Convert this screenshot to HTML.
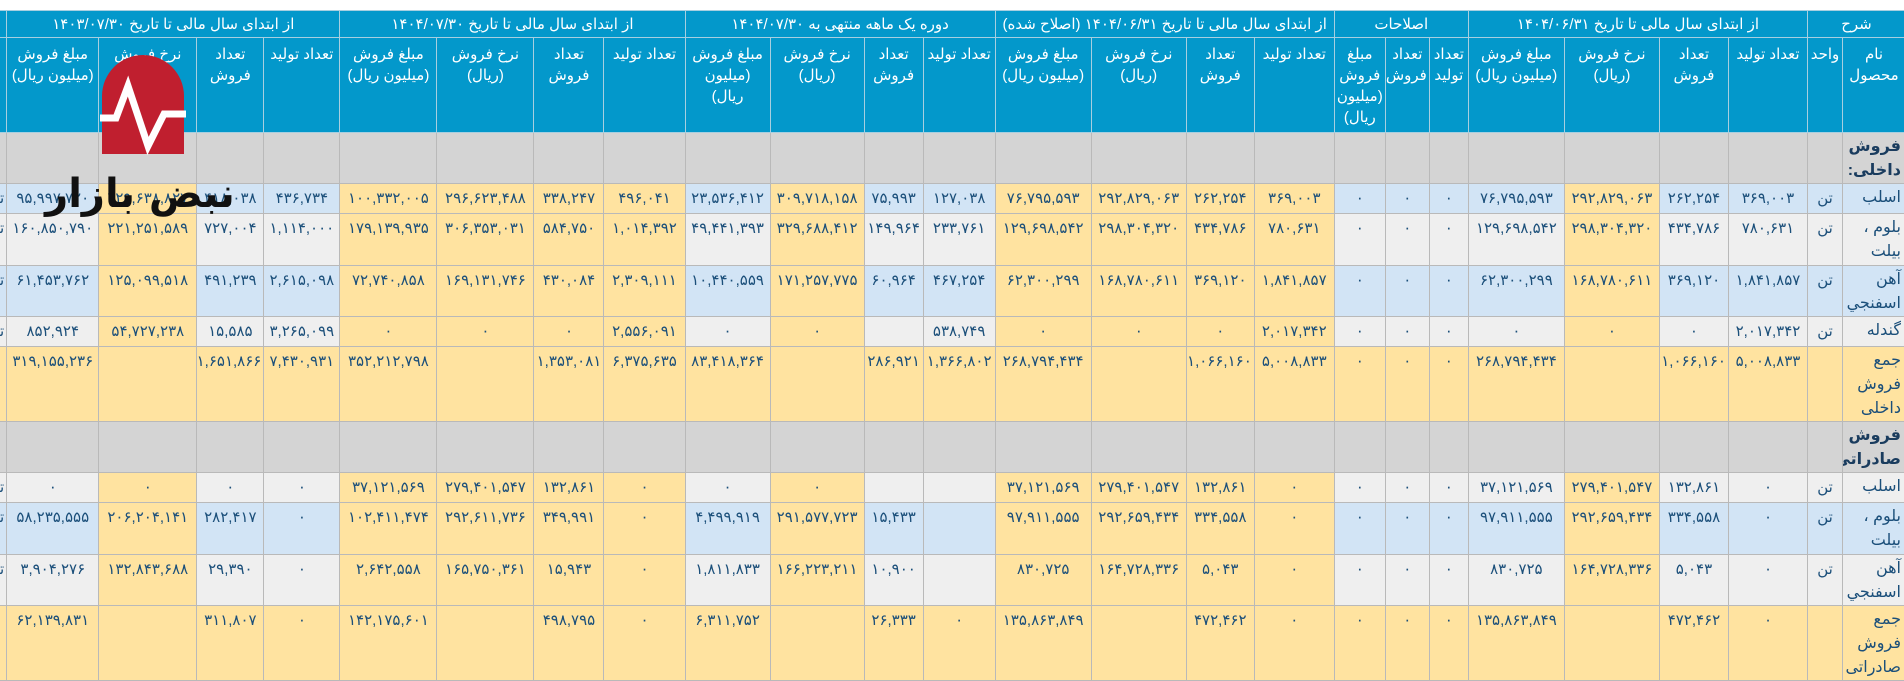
<!DOCTYPE html>
<html lang="fa" dir="rtl">
<head>
<meta charset="utf-8">
<style>
html,body{margin:0;padding:0;background:#fff;width:1904px;height:681px;overflow:hidden;position:relative;}
table{position:absolute;top:10px;left:-54px;border-collapse:collapse;table-layout:fixed;width:1960px;direction:rtl;font-family:"Liberation Sans","DejaVu Sans",sans-serif;}
td,th{border:1px solid #b9b9b9;padding:5px 2px 0;vertical-align:top;text-align:center;overflow:hidden;white-space:nowrap;font-size:15px;color:#1b4f7a;font-weight:normal;box-sizing:border-box;}
th{background:#0398cb;color:#fff;border-color:#a8cfe0;font-size:15px;white-space:normal;line-height:21px;padding-top:6px;}
tr.h1 th{vertical-align:middle;padding-top:0;}
td.n{text-align:right;white-space:normal;padding-right:4px;font-size:16px;line-height:24px;padding-top:2px;}
.b{background:#d2e4f5}.g{background:#efefef}.y{background:#ffe3a0}.s{background:#d4d4d4}
td.sec{font-weight:bold;color:#1a3c5e;}
</style>
</head>
<body>
<table>
<colgroup>
<col style="width:63px"><col style="width:35px">
<col style="width:79px"><col style="width:69px"><col style="width:95px"><col style="width:96px">
<col style="width:39px"><col style="width:44px"><col style="width:51px">
<col style="width:80px"><col style="width:68px"><col style="width:95px"><col style="width:96px">
<col style="width:72px"><col style="width:59px"><col style="width:94px"><col style="width:85px">
<col style="width:81px"><col style="width:70px"><col style="width:97px"><col style="width:97px">
<col style="width:76px"><col style="width:67px"><col style="width:98px"><col style="width:92px">
<col style="width:60px">
</colgroup>
<tr class="h1" style="height:27px">
<th colspan="2">شرح</th>
<th colspan="4">از ابتدای سال مالی تا تاریخ ۱۴۰۴/۰۶/۳۱</th>
<th colspan="3">اصلاحات</th>
<th colspan="4">از ابتدای سال مالی تا تاریخ ۱۴۰۴/۰۶/۳۱ (اصلاح شده)</th>
<th colspan="4">دوره یک ماهه منتهی به ۱۴۰۴/۰۷/۳۰</th>
<th colspan="4">از ابتدای سال مالی تا تاریخ ۱۴۰۴/۰۷/۳۰</th>
<th colspan="4">از ابتدای سال مالی تا تاریخ ۱۴۰۳/۰۷/۳۰</th>
<th></th>
</tr>
<tr style="height:95px">
<th>نام محصول</th><th>واحد</th>
<th>تعداد تولید</th><th>تعداد فروش</th><th>نرخ فروش (ریال)</th><th>مبلغ فروش (میلیون ریال)</th>
<th>تعداد تولید</th><th>تعداد فروش</th><th>مبلغ فروش (میلیون ریال)</th>
<th>تعداد تولید</th><th>تعداد فروش</th><th>نرخ فروش (ریال)</th><th>مبلغ فروش (میلیون ریال)</th>
<th>تعداد تولید</th><th>تعداد فروش</th><th>نرخ فروش (ریال)</th><th>مبلغ فروش (میلیون ریال)</th>
<th>تعداد تولید</th><th>تعداد فروش</th><th>نرخ فروش (ریال)</th><th>مبلغ فروش (میلیون ریال)</th>
<th>تعداد تولید</th><th>تعداد فروش</th><th>نرخ فروش (ریال)</th><th>مبلغ فروش (میلیون ریال)</th>
<th>ش</th>
</tr>
<tr style="height:51px">
<td class="s n sec">فروش داخلی:</td><td class="s"></td>
<td class="s"></td><td class="s"></td><td class="s"></td><td class="s"></td>
<td class="s"></td><td class="s"></td><td class="s"></td>
<td class="s"></td><td class="s"></td><td class="s"></td><td class="s"></td>
<td class="s"></td><td class="s"></td><td class="s"></td><td class="s"></td>
<td class="s"></td><td class="s"></td><td class="s"></td><td class="s"></td>
<td class="s"></td><td class="s"></td><td class="s"></td><td class="s"></td>
<td class="s"></td>
</tr>
<tr style="height:30px">
<td class="b n">اسلب</td><td class="b">تن</td>
<td class="b">۳۶۹,۰۰۳</td><td class="b">۲۶۲,۲۵۴</td><td class="y">۲۹۲,۸۲۹,۰۶۳</td><td class="b">۷۶,۷۹۵,۵۹۳</td>
<td class="b">۰</td><td class="b">۰</td><td class="b">۰</td>
<td class="y">۳۶۹,۰۰۳</td><td class="y">۲۶۲,۲۵۴</td><td class="y">۲۹۲,۸۲۹,۰۶۳</td><td class="y">۷۶,۷۹۵,۵۹۳</td>
<td class="b">۱۲۷,۰۳۸</td><td class="b">۷۵,۹۹۳</td><td class="y">۳۰۹,۷۱۸,۱۵۸</td><td class="b">۲۳,۵۳۶,۴۱۲</td>
<td class="y">۴۹۶,۰۴۱</td><td class="y">۳۳۸,۲۴۷</td><td class="y">۲۹۶,۶۲۳,۴۸۸</td><td class="y">۱۰۰,۳۳۲,۰۰۵</td>
<td class="b">۴۳۶,۷۳۴</td><td class="b">۴۱۸,۰۳۸</td><td class="y">۲۲۹,۶۳۸,۸۲۷</td><td class="b">۹۵,۹۹۷,۷۲۰</td>
<td class="b" style="text-align:right">تن</td>
</tr>
<tr style="height:52px">
<td class="g n">بلوم ، بیلت</td><td class="g">تن</td>
<td class="g">۷۸۰,۶۳۱</td><td class="g">۴۳۴,۷۸۶</td><td class="y">۲۹۸,۳۰۴,۳۲۰</td><td class="g">۱۲۹,۶۹۸,۵۴۲</td>
<td class="g">۰</td><td class="g">۰</td><td class="g">۰</td>
<td class="y">۷۸۰,۶۳۱</td><td class="y">۴۳۴,۷۸۶</td><td class="y">۲۹۸,۳۰۴,۳۲۰</td><td class="y">۱۲۹,۶۹۸,۵۴۲</td>
<td class="g">۲۳۳,۷۶۱</td><td class="g">۱۴۹,۹۶۴</td><td class="y">۳۲۹,۶۸۸,۴۱۲</td><td class="g">۴۹,۴۴۱,۳۹۳</td>
<td class="y">۱,۰۱۴,۳۹۲</td><td class="y">۵۸۴,۷۵۰</td><td class="y">۳۰۶,۳۵۳,۰۳۱</td><td class="y">۱۷۹,۱۳۹,۹۳۵</td>
<td class="g">۱,۱۱۴,۰۰۰</td><td class="g">۷۲۷,۰۰۴</td><td class="y">۲۲۱,۲۵۱,۵۸۹</td><td class="g">۱۶۰,۸۵۰,۷۹۰</td>
<td class="g" style="text-align:right">تن</td>
</tr>
<tr style="height:51px">
<td class="b n">آهن اسفنجي</td><td class="b">تن</td>
<td class="b">۱,۸۴۱,۸۵۷</td><td class="b">۳۶۹,۱۲۰</td><td class="y">۱۶۸,۷۸۰,۶۱۱</td><td class="b">۶۲,۳۰۰,۲۹۹</td>
<td class="b">۰</td><td class="b">۰</td><td class="b">۰</td>
<td class="y">۱,۸۴۱,۸۵۷</td><td class="y">۳۶۹,۱۲۰</td><td class="y">۱۶۸,۷۸۰,۶۱۱</td><td class="y">۶۲,۳۰۰,۲۹۹</td>
<td class="b">۴۶۷,۲۵۴</td><td class="b">۶۰,۹۶۴</td><td class="y">۱۷۱,۲۵۷,۷۷۵</td><td class="b">۱۰,۴۴۰,۵۵۹</td>
<td class="y">۲,۳۰۹,۱۱۱</td><td class="y">۴۳۰,۰۸۴</td><td class="y">۱۶۹,۱۳۱,۷۴۶</td><td class="y">۷۲,۷۴۰,۸۵۸</td>
<td class="b">۲,۶۱۵,۰۹۸</td><td class="b">۴۹۱,۲۳۹</td><td class="y">۱۲۵,۰۹۹,۵۱۸</td><td class="b">۶۱,۴۵۳,۷۶۲</td>
<td class="b" style="text-align:right">تن</td>
</tr>
<tr style="height:30px">
<td class="g n">گندله</td><td class="g">تن</td>
<td class="g">۲,۰۱۷,۳۴۲</td><td class="g">۰</td><td class="y">۰</td><td class="g">۰</td>
<td class="g">۰</td><td class="g">۰</td><td class="g">۰</td>
<td class="y">۲,۰۱۷,۳۴۲</td><td class="y">۰</td><td class="y">۰</td><td class="y">۰</td>
<td class="g">۵۳۸,۷۴۹</td><td class="g"></td><td class="y">۰</td><td class="g">۰</td>
<td class="y">۲,۵۵۶,۰۹۱</td><td class="y">۰</td><td class="y">۰</td><td class="y">۰</td>
<td class="g">۳,۲۶۵,۰۹۹</td><td class="g">۱۵,۵۸۵</td><td class="y">۵۴,۷۲۷,۲۳۸</td><td class="g">۸۵۲,۹۲۴</td>
<td class="g" style="text-align:right">تن</td>
</tr>
<tr style="height:73px">
<td class="y n">جمع فروش داخلی</td><td class="y"></td>
<td class="y">۵,۰۰۸,۸۳۳</td><td class="y">۱,۰۶۶,۱۶۰</td><td class="y"></td><td class="y">۲۶۸,۷۹۴,۴۳۴</td>
<td class="y">۰</td><td class="y">۰</td><td class="y">۰</td>
<td class="y">۵,۰۰۸,۸۳۳</td><td class="y">۱,۰۶۶,۱۶۰</td><td class="y"></td><td class="y">۲۶۸,۷۹۴,۴۳۴</td>
<td class="y">۱,۳۶۶,۸۰۲</td><td class="y">۲۸۶,۹۲۱</td><td class="y"></td><td class="y">۸۳,۴۱۸,۳۶۴</td>
<td class="y">۶,۳۷۵,۶۳۵</td><td class="y">۱,۳۵۳,۰۸۱</td><td class="y"></td><td class="y">۳۵۲,۲۱۲,۷۹۸</td>
<td class="y">۷,۴۳۰,۹۳۱</td><td class="y">۱,۶۵۱,۸۶۶</td><td class="y"></td><td class="y">۳۱۹,۱۵۵,۲۳۶</td>
<td class="y"></td>
</tr>
<tr style="height:51px">
<td class="s n sec">فروش صادراتی:</td><td class="s"></td>
<td class="s"></td><td class="s"></td><td class="s"></td><td class="s"></td>
<td class="s"></td><td class="s"></td><td class="s"></td>
<td class="s"></td><td class="s"></td><td class="s"></td><td class="s"></td>
<td class="s"></td><td class="s"></td><td class="s"></td><td class="s"></td>
<td class="s"></td><td class="s"></td><td class="s"></td><td class="s"></td>
<td class="s"></td><td class="s"></td><td class="s"></td><td class="s"></td>
<td class="s"></td>
</tr>
<tr style="height:30px">
<td class="g n">اسلب</td><td class="g">تن</td>
<td class="g">۰</td><td class="g">۱۳۲,۸۶۱</td><td class="y">۲۷۹,۴۰۱,۵۴۷</td><td class="g">۳۷,۱۲۱,۵۶۹</td>
<td class="g">۰</td><td class="g">۰</td><td class="g">۰</td>
<td class="y">۰</td><td class="y">۱۳۲,۸۶۱</td><td class="y">۲۷۹,۴۰۱,۵۴۷</td><td class="y">۳۷,۱۲۱,۵۶۹</td>
<td class="g"></td><td class="g"></td><td class="y">۰</td><td class="g">۰</td>
<td class="y">۰</td><td class="y">۱۳۲,۸۶۱</td><td class="y">۲۷۹,۴۰۱,۵۴۷</td><td class="y">۳۷,۱۲۱,۵۶۹</td>
<td class="g">۰</td><td class="g">۰</td><td class="y">۰</td><td class="g">۰</td>
<td class="g" style="text-align:right">تن</td>
</tr>
<tr style="height:52px">
<td class="b n">بلوم ، بیلت</td><td class="b">تن</td>
<td class="b">۰</td><td class="b">۳۳۴,۵۵۸</td><td class="y">۲۹۲,۶۵۹,۴۳۴</td><td class="b">۹۷,۹۱۱,۵۵۵</td>
<td class="b">۰</td><td class="b">۰</td><td class="b">۰</td>
<td class="y">۰</td><td class="y">۳۳۴,۵۵۸</td><td class="y">۲۹۲,۶۵۹,۴۳۴</td><td class="y">۹۷,۹۱۱,۵۵۵</td>
<td class="b"></td><td class="b">۱۵,۴۳۳</td><td class="y">۲۹۱,۵۷۷,۷۲۳</td><td class="b">۴,۴۹۹,۹۱۹</td>
<td class="y">۰</td><td class="y">۳۴۹,۹۹۱</td><td class="y">۲۹۲,۶۱۱,۷۳۶</td><td class="y">۱۰۲,۴۱۱,۴۷۴</td>
<td class="b">۰</td><td class="b">۲۸۲,۴۱۷</td><td class="y">۲۰۶,۲۰۴,۱۴۱</td><td class="b">۵۸,۲۳۵,۵۵۵</td>
<td class="b" style="text-align:right">تن</td>
</tr>
<tr style="height:51px">
<td class="g n">آهن اسفنجي</td><td class="g">تن</td>
<td class="g">۰</td><td class="g">۵,۰۴۳</td><td class="y">۱۶۴,۷۲۸,۳۳۶</td><td class="g">۸۳۰,۷۲۵</td>
<td class="g">۰</td><td class="g">۰</td><td class="g">۰</td>
<td class="y">۰</td><td class="y">۵,۰۴۳</td><td class="y">۱۶۴,۷۲۸,۳۳۶</td><td class="y">۸۳۰,۷۲۵</td>
<td class="g"></td><td class="g">۱۰,۹۰۰</td><td class="y">۱۶۶,۲۲۳,۲۱۱</td><td class="g">۱,۸۱۱,۸۳۳</td>
<td class="y">۰</td><td class="y">۱۵,۹۴۳</td><td class="y">۱۶۵,۷۵۰,۳۶۱</td><td class="y">۲,۶۴۲,۵۵۸</td>
<td class="g">۰</td><td class="g">۲۹,۳۹۰</td><td class="y">۱۳۲,۸۴۳,۶۸۸</td><td class="g">۳,۹۰۴,۲۷۶</td>
<td class="g" style="text-align:right">تن</td>
</tr>
<tr style="height:73px">
<td class="y n">جمع فروش صادراتی</td><td class="y"></td>
<td class="y">۰</td><td class="y">۴۷۲,۴۶۲</td><td class="y"></td><td class="y">۱۳۵,۸۶۳,۸۴۹</td>
<td class="y">۰</td><td class="y">۰</td><td class="y">۰</td>
<td class="y">۰</td><td class="y">۴۷۲,۴۶۲</td><td class="y"></td><td class="y">۱۳۵,۸۶۳,۸۴۹</td>
<td class="y">۰</td><td class="y">۲۶,۳۳۳</td><td class="y"></td><td class="y">۶,۳۱۱,۷۵۲</td>
<td class="y">۰</td><td class="y">۴۹۸,۷۹۵</td><td class="y"></td><td class="y">۱۴۲,۱۷۵,۶۰۱</td>
<td class="y">۰</td><td class="y">۳۱۱,۸۰۷</td><td class="y"></td><td class="y">۶۲,۱۳۹,۸۳۱</td>
<td class="y"></td>
</tr>
<tr style="height:20px">
<td class="s"></td><td class="s"></td><td class="s"></td><td class="s"></td><td class="s"></td><td class="s"></td><td class="s"></td><td class="s"></td><td class="s"></td><td class="s"></td><td class="s"></td><td class="s"></td><td class="s"></td><td class="s"></td><td class="s"></td><td class="s"></td><td class="s"></td><td class="s"></td><td class="s"></td><td class="s"></td><td class="s"></td><td class="s"></td><td class="s"></td><td class="s"></td><td class="s"></td><td class="s"></td>
</tr>
</table>

<svg style="position:absolute;left:100px;top:54px" width="86" height="102" viewBox="0 0 86 102">
<path d="M2 42 A41 41 0 0 1 84 42 L84 100 L2 100 Z" fill="#c01f2f"/>
<polyline points="0,64 16,64 28,32 48,92 64,60 86,60" fill="none" stroke="#fff" stroke-width="7" stroke-linejoin="miter"/>
</svg>
<div style="position:absolute;left:40px;top:166px;width:200px;text-align:center;font-family:'DejaVu Sans',sans-serif;font-size:40px;font-weight:bold;color:#111;direction:rtl;line-height:56px;white-space:nowrap;">نبض بازار</div>
</body>
</html>
